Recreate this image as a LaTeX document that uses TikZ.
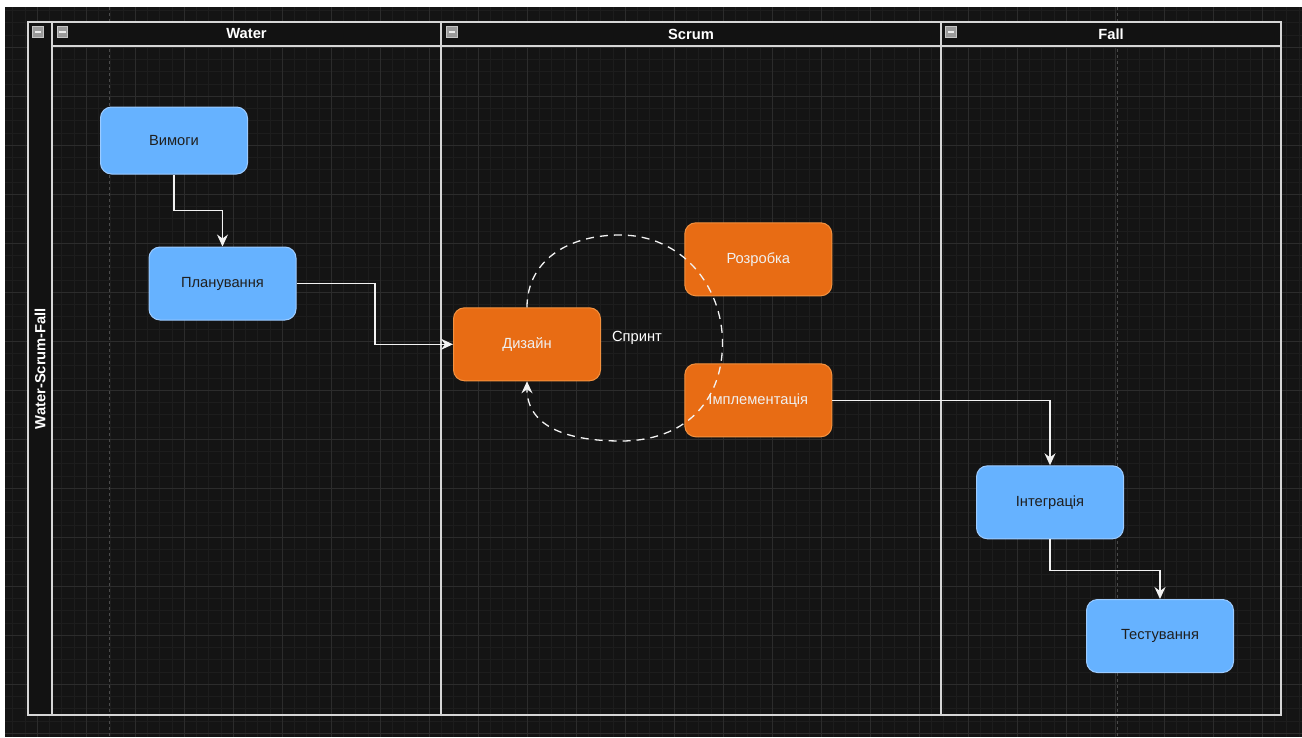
\documentclass[tikz,border=0pt]{standalone}
\usepackage{fontspec}
\setmainfont{Liberation Sans}
\usetikzlibrary{arrows.meta,calc}

\definecolor{pagebg}{HTML}{141414}
\definecolor{minorc}{HTML}{1D1D1D}
\definecolor{majorc}{HTML}{2C2C2C}
\definecolor{pagebreak}{HTML}{4A4A4A}
\definecolor{headfill}{HTML}{121212}
\definecolor{poolline}{HTML}{D6D6D6}
\definecolor{bluefill}{HTML}{66B2FF}
\definecolor{blueline}{HTML}{9CCBFF}
\definecolor{orangefill}{HTML}{E86C14}
\definecolor{orangeline}{HTML}{F3913F}
\definecolor{flowc}{HTML}{F2F2F2}
\definecolor{iconfill}{HTML}{9A9A9A}
\definecolor{iconline}{HTML}{C4C4C4}

\tikzset{
  txt/.style={font=\fontsize{14.7}{17}\selectfont},
  boldtxt/.style={font=\bfseries\fontsize{14.7}{17}\selectfont, text=white},
  minorgrid/.style={draw=minorc, line width=1pt},
  majorgrid/.style={draw=majorc, line width=1pt},
  pageline/.style={draw=pagebreak, line width=1pt, dash pattern=on 3pt off 3pt},
  poolframe/.style={draw=poolline, line width=1.5pt},
  box/.style={rectangle, rounded corners=11pt, line width=1pt, inner sep=0pt,
    minimum width=147pt, minimum height=73pt, txt},
  bluebox/.style={box, fill=bluefill, draw=blueline, text=black!88},
  orangebox/.style={box, fill=orangefill, draw=orangeline, text=white!94!black},
  flow/.style={draw=flowc, line width=1.3pt,
    -{Stealth[length=12pt, width=11pt, inset=4pt]}},
  sprint/.style={flow, dash pattern=on 8pt off 6pt},
  collapse/.style={rectangle, fill=iconfill, draw=iconline, line width=0.8pt,
    minimum width=10.5pt, minimum height=10.5pt, inner sep=0pt,
    path picture={\draw[white!92!black, line width=1.8pt]
      ([xshift=2pt]path picture bounding box.west) --
      ([xshift=-2pt]path picture bounding box.east);}}
}

\begin{document}
\begin{tikzpicture}[x=1pt, y=-1pt]
\useasboundingbox (0,0) rectangle (1302,737);
\fill[white] (0,0) rectangle (1302,737);
\fill[pagebg] (5,7) rectangle (1302,737);

% canvas grid
\begin{scope}
  \clip (5,7) rectangle (1302,737);
  \foreach \i in {0,...,106} {
    \draw[minorgrid] ({0.55+12.25*\i},7) -- ({0.55+12.25*\i},737);
  }
  \foreach \j in {0,...,61} {
    \draw[minorgrid] (5,{-1.7+12.25*\j}) -- (1302,{-1.7+12.25*\j});
  }
  \foreach \i in {0,...,26} {
    \draw[majorgrid] ({37.3+49*\i},7) -- ({37.3+49*\i},737);
  }
  \foreach \j in {0,...,15} {
    \draw[majorgrid] (5,{-1.7+49*\j}) -- (1302,{-1.7+49*\j});
  }
  % page breaks
  \draw[pageline] (109,7) -- (109,737);
  \draw[pageline] (1117,7) -- (1117,737);
\end{scope}

% pool with three lanes
\fill[headfill] (28,22) rectangle (52,715);
\fill[headfill] (52,22) rectangle (1281,46);
\draw[poolframe] (28,22) rectangle (1281,715);
\draw[poolframe] (52,22) -- (52,715);
\draw[poolframe] (52,46) -- (1281,46);
\draw[poolframe] (441,22) -- (441,715);
\draw[poolframe] (941,22) -- (941,715);

\node[collapse] (icpool) at (38,32) {};
\node[collapse] (icwater) at (62.5,32) {};
\node[collapse] (icscrum) at (452,32) {};
\node[collapse] (icfall) at (951,32) {};

\node[boldtxt] (hwater) at (246.5,34) {Water};
\node[boldtxt] (hscrum) at (691,34) {Scrum};
\node[boldtxt] (hfall) at (1111,34) {Fall};
\node[boldtxt, rotate=90] (hpool) at (40,368.5) {Water-Scrum-Fall};

% process steps
\node[bluebox, minimum height=67pt] (vym) at (174,140.5) {Вимоги};
\node[bluebox] (plan) at (222.5,283.5) {Планування};
\node[orangebox] (diz) at (527,344.3) {Дизайн};
\node[orangebox] (roz) at (758.3,259.3) {Розробка};
\node[orangebox] (imp) at (758.3,400.3) {Імплементація};
\node[bluebox] (intg) at (1050,502.3) {Інтеграція};
\node[bluebox] (test) at (1160,636) {Тестування};

% connectors
\coordinate (j1) at (375,0);
\draw[flow] (vym.south) -- ++(0,36) -| (plan.north);
\draw[flow] (plan.east) -- (plan.east -| j1) |- (diz.west);
\draw[flow] (imp.east) -| (intg.north);
\draw[flow] (intg.south) -- ++(0,31) -| (test.north);

% sprint loop
\coordinate (sptop) at (620,235);
\coordinate (spright) at (722.5,343);
\coordinate (spbottom) at (621,441);
\draw[sprint] (diz.north)
  .. controls (527,262) and (566,235) .. (sptop)
  .. controls (682,235) and (722.5,286) .. (spright)
  .. controls (722.5,402) and (684,441) .. (spbottom)
  .. controls (562,441) and (527,424) .. (diz.south);
\node[txt, text=white] (splabel) at (637,337.5) {Спринт};
\end{tikzpicture}
\end{document}
